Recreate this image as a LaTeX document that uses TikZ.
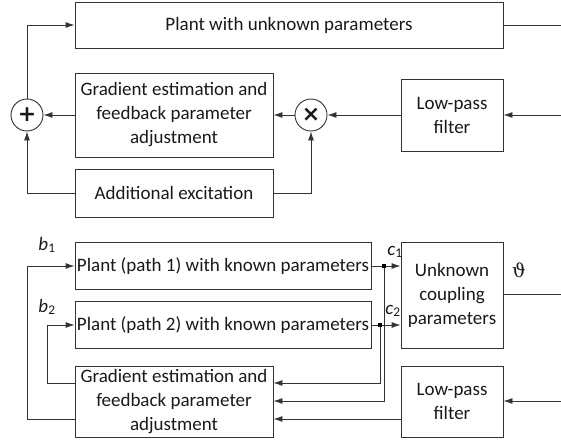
\documentclass[tikz,border=0pt]{standalone}
\usepackage{fontspec}
\setmainfont{Carlito}
\newfontfamily\thetafont{DejaVu Serif}
\newfontfamily\symfont{DejaVu Sans}
\usetikzlibrary{arrows.meta,calc}
\begin{document}
\begin{tikzpicture}[x=1pt,y=-1pt,
  line width=0.9pt, draw=black!80,
  every node/.style={font=\fontsize{19}{24}\selectfont, text=black!90},
  blk/.style={draw=black!80, rectangle, align=center, inner sep=0pt},
  op/.style={draw=black!80, circle, minimum size=32pt, inner sep=0pt, font=\fontsize{22}{22}\selectfont\symfont\bfseries},
  lbl/.style={inner sep=0pt},
  arr/.style={-{Latex[length=9pt,width=6pt]}},
  dotn/.style={fill=black, inner sep=0pt, minimum size=4pt, rectangle}]
\useasboundingbox (0,0) rectangle (561,444);
% top section
\node[blk, minimum width=428pt, minimum height=46pt] (plant) at (289,25) {Plant with unknown parameters};
\node[blk, minimum width=198pt, minimum height=84pt] (grad1) at (174,115) {Gradient estimation and\\feedback parameter\\adjustment};
\node[op] (sum) at (27,115) {+};
\node[op] (mult) at (311,115) {×};
\node[blk, minimum width=102pt, minimum height=72pt] (lp1) at (452,115) {Low-pass\\filter};
\node[blk, minimum width=198pt, minimum height=48pt] (exc) at (174,193) {Additional excitation};
\coordinate (e1) at (561,25);
\coordinate (e2) at (561,115);
\draw (plant.east) -- (e1);
\draw[arr] (sum.north) |- (plant.west);
\draw[arr] (grad1.west) -- (sum.east);
\draw[arr] (mult.west) -- (grad1.east);
\draw[arr] (lp1.west) -- (mult.east);
\draw[arr] (e2) -- (lp1.east);
\draw[arr] (exc.west) -| (sum.south);
\draw[arr] (exc.east) -| (mult.south);
% bottom section
\node[blk, minimum width=296pt, minimum height=47pt] (p1) at (223,266) {Plant (path 1) with known parameters};
\node[blk, minimum width=296pt, minimum height=47pt] (p2) at (223,325) {Plant (path 2) with known parameters};
\node[blk, minimum width=102pt, minimum height=106pt] (coup) at (452,295) {Unknown\\coupling\\parameters};
\node[blk, minimum width=198pt, minimum height=71pt] (grad2) at (174,401.5) {Gradient estimation and\\feedback parameter\\adjustment};
\node[blk, minimum width=102pt, minimum height=71pt] (lp2) at (452,401.5) {Low-pass\\filter};
\node[lbl] (b1) at (47,245) {\textit{b}\textsubscript{1}};
\node[lbl] (b2) at (47,307) {\textit{b}\textsubscript{2}};
\node[lbl] (c1) at (395,252) {\textit{c}\textsubscript{1}};
\node[lbl] (c2) at (393,311) {\textit{c}\textsubscript{2}};
\node[lbl] (th) at (519,270) {\thetafont ϑ};
\node[dotn] (d1) at (384,266) {};
\node[dotn] (d2) at (380,325) {};
\coordinate (e3) at (561,294);
\coordinate (e4) at (561,401);
\coordinate (g1) at (27,419);
\coordinate (g2) at (47,383);
\draw (coup.east |- e3) -- (e3);
\draw[arr] (e4) -- (lp2.east |- e4);
\draw[arr] (lp2.west |- g1) -- (grad2.east |- g1);
\draw[arr] (grad2.west |- g1) -- (g1) |- (p1.west);
\draw[arr] (grad2.west |- g2) -- (g2) |- (p2.west);
\draw (p1.east) -- (d1);
\draw[arr] (d1) -- (coup.west |- d1);
\draw (p2.east) -- (d2);
\draw[arr] (d2) -- (coup.west |- d2);
\draw[arr] (d1) -- (d1 |- e4) -- (grad2.east |- e4);
\draw[arr] (d2) -- (d2 |- g2) -- (grad2.east |- g2);
\end{tikzpicture}
\end{document}
